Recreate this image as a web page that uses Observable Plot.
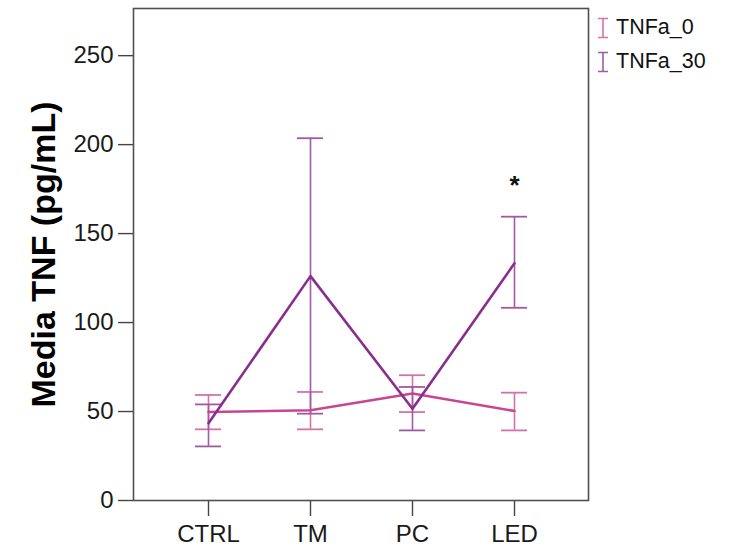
<!DOCTYPE html>
<html><head><meta charset="utf-8">
<script src="https://cdn.jsdelivr.net/npm/d3@7"></script>
<script src="https://cdn.jsdelivr.net/npm/@observablehq/plot@0.6"></script>
<style>
body{margin:0;background:#fff;}
#wrap{position:relative;width:755px;height:550px;font-family:"Liberation Sans",Arial,sans-serif;}
.leg{position:absolute;left:596px;display:flex;align-items:center;font-size:21.5px;color:#111;}
.leg svg{margin-right:6px;}
</style>
</head><body><div id="wrap"></div>
<script>
const groups = ["CTRL", "TM", "PC", "LED"];
const series = ["TNFa_0", "TNFa_30"];
const mean0 = [49.7, 50.7, 60.1, 50.3];
const low0 = [40.0, 40.0, 49.7, 39.4];
const high0 = [59.3, 61.0, 70.4, 60.6];
const mean30 = [43.4, 126.1, 51.6, 133.3];
const low30 = [30.4, 48.8, 39.4, 108.3];
const high30 = [54.0, 203.6, 63.8, 159.5];
const yTicks = [0, 50, 100, 150, 200, 250];
const yLabel = "Media TNF (pg/mL)";
const lineColors = ["#c8468f", "#8a2e8c"];
const barColors = ["#d473aa", "#9f5aa3"];
const starGroup = ["LED"];
const starY = [177];

const rows = [];
groups.forEach((g, i) => {
  rows.push({group: g, series: series[0], mean: mean0[i], low: low0[i], high: high0[i]});
  rows.push({group: g, series: series[1], mean: mean30[i], low: low30[i], high: high30[i]});
});
const colorOf = s => lineColors[series.indexOf(s)];
const barColorOf = s => barColors[series.indexOf(s)];
const stars = starGroup.map((g, i) => ({group: g, y: starY[i]}));

const marks = [];
series.forEach((s, k) => {
  const d = rows.filter(r => r.series === s);
  marks.push(Plot.ruleX(d, {x: "group", y1: "low", y2: "high", stroke: barColorOf(s), strokeWidth: 1.6}));
  marks.push(Plot.tickY(d, {x: "group", y: "low", stroke: barColorOf(s), strokeWidth: 1.8}));
  marks.push(Plot.tickY(d, {x: "group", y: "high", stroke: barColorOf(s), strokeWidth: 1.8}));
});
series.forEach(s => {
  const d = rows.filter(r => r.series === s);
  marks.push(Plot.line(d, {x: "group", y: "mean", stroke: colorOf(s), strokeWidth: 2.6}));
});
marks.push(Plot.text(stars, {x: "group", y: "y", text: () => "*", fontSize: 26, fontWeight: "bold", fill: "#111"}));
marks.push(Plot.frame({stroke: "#505050", strokeWidth: 1.6}));

const chart = Plot.plot({
  width: 755,
  height: 550,
  marginLeft: 133,
  marginRight: 167,
  marginTop: 8,
  marginBottom: 50,
  style: {fontFamily: "'Liberation Sans', Arial, sans-serif", fontSize: "24px", color: "#111", background: "#fff"},
  x: {type: "band", domain: groups, paddingInner: 0.746, paddingOuter: 0.593, tickSize: 16, tickPadding: 8, label: null},
  y: {domain: [0, 276.5], ticks: yTicks, tickSize: 15, tickPadding: 5, label: yLabel, labelAnchor: "center", labelOffset: 103},
  marks
});

const wrap = document.getElementById("wrap");
wrap.appendChild(chart);
const svg = d3.select(chart);
svg.selectAll('[aria-label="y-axis label"] text, [aria-label="y-axis label"]').filter(function(){return this.tagName==="text";})
  .text(yLabel).style("font-size", "34px").style("font-weight", "bold").attr("fill", "#000");
svg.selectAll('[aria-label="y-axis tick label"] text, [aria-label="x-axis tick label"] text')
  .style("font-size", "24px").attr("fill", "#1a1a1a");
svg.selectAll('[aria-label="y-axis tick"] path, [aria-label="x-axis tick"] path').attr("stroke", "#444").attr("stroke-width", 1.4);

series.forEach((s, k) => {
  const div = document.createElement("div");
  div.className = "leg";
  div.style.top = (15 + k * 34) + "px";
  const c = barColorOf(s);
  div.innerHTML = `<svg width="14" height="22"><path d="M2,1.5H12M7,1.5V20.5M2,20.5H12" stroke="${c}" stroke-width="1.6" fill="none"/></svg><span>${s}</span>`;
  wrap.appendChild(div);
});
</script>
</body></html>
